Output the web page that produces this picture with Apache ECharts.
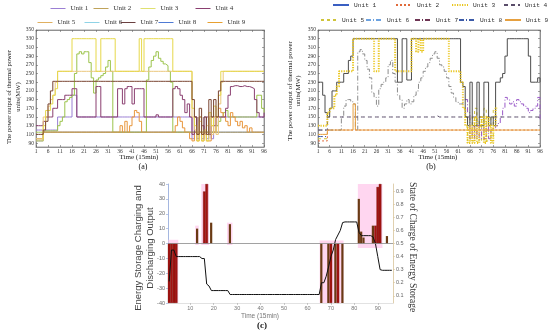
<!DOCTYPE html>
<html><head><meta charset="utf-8">
<script src="https://cdn.jsdelivr.net/npm/echarts@6/dist/echarts.min.js"></script>
<style>html,body{margin:0;padding:0;background:#fff}#c{width:550px;height:335px}</style>
</head><body><div id="c"></div>
<script>
// ---------------- DATA ----------------
const unitNames = ['Unit 1','Unit 2','Unit 3','Unit 4','Unit 5','Unit 6','Unit 7','Unit 8','Unit 9'];
const yTicksMW = [90,110,130,150,170,190,210,230,250,270,290,310,330,350];
const xTicksC = [10,20,30,40,50,60,70,80,90];
const socTicks = [0.1,0.2,0.3,0.4,0.5,0.6,0.7,0.8,0.9];
const n = null;

// (a) thermal unit outputs, t = 1..96
const a_u1 = [120,120,120,120,120,120,120,120,120,150,150,150, 150,150,150,200,200,150,150,150,150,150,150,150,
 150,150,150,150,150,150,150,150,150,150,150,150, 150,150,150,150,150,150,150,150,150,150,150,150,
 150,150,150,150,150,150,150,150,150,150,150,150, 150,150,150,150,150,100,150,100,150,100,150,100,
 150,100,150,130,150,150,150,150,150,150,150,150, 150,150,150,150,150,150,150,150,150,150,150,150];
const a_u2 = [100,100,100,115,115,115,115,115,115,115,115,115, 115,115,115,115,115,115,115,115,115,115,115,115,
 115,115,115,115,115,115,115,115,115,115,115,115, 115,115,115,115,115,115,115,115,115,115,115,115,
 115,115,115,115,115,115,115,115,115,115,115,115, 115,115,115,115,115,115,115,115,115,115,115,115,
 115,115,115,115,115,115,115,115,115,115,115,115, 115,115,115,115,115,115,115,115,115,115,115,115];
const a_u3 = [95,95,95,130,165,165,180,200,215,255,255,255, 255,255,255,330,330,330,330,330,330,330,330,330,
 330,255,255,330,330,330,330,330,330,255,255,255, 255,255,255,255,255,255,255,330,255,330,330,330,
 330,330,330,330,330,330,330,330,330,255,255,255, 255,255,255,255,255,170,130,95,150,95,120,95,
 160,130,175,150,200,255,255,255,255,255,255,255, 255,255,255,255,255,255,255,255,255,255,255,255];
const a_u4 = [130,130,130,140,150,150,150,170,170,190,190,190, 200,200,200,215,215,150,150,150,150,150,150,150,
 150,220,220,150,150,150,150,150,150,150,215,215, 180,215,220,220,180,215,215,215,215,150,150,150,
 150,150,155,150,150,150,150,150,150,215,220,215, 200,190,160,180,150,110,150,110,150,130,110,150,
 110,150,130,150,150,150,150,170,200,220,222,222, 220,220,222,220,220,218,215,190,160,150,150,160];
const a_u5 = [100,100,100,150,150,175,190,200,230,255,255,255, 255,255,255,255,255,255,255,255,255,255,255,255,
 255,255,255,255,255,255,255,255,255,255,255,255, 255,255,255,255,255,255,255,255,255,255,255,255,
 255,255,255,255,255,255,255,255,255,255,255,255, 255,255,255,255,255,150,120,110,140,110,110,130,
 150,110,150,110,180,230,255,255,255,255,255,255, 255,255,255,255,255,255,255,255,255,255,255,255];
const a_u6 = [115,115,115,118,118,118,118,118,118,130,140,150, 185,190,195,200,250,295,300,295,300,300,275,240,
 205,235,240,245,250,265,280,255,115,115,115,115, 115,115,115,115,115,115,115,115,115,115,235,265,
 280,290,300,285,278,272,268,255,230,115,115,115, 115,115,115,115,115,115,115,115,115,115,115,115,
 115,115,115,130,140,150,160,165,150,150,150,150, 150,150,150,150,150,150,150,150,200,200,170,160];
const a_u7 = [110,110,110,120,140,180,210,232,232,232,232,232, 232,232,232,232,232,232,232,232,232,232,232,232,
 232,232,232,232,232,232,232,232,232,232,232,232, 232,232,232,232,232,232,232,232,232,232,232,232,
 232,232,232,232,232,232,232,232,232,232,232,232, 232,232,232,232,232,190,150,110,170,110,150,110,
 190,150,190,150,210,232,232,232,232,232,232,232, 232,232,232,232,232,232,232,232,232,232,232,232];
const a_u8 = [95,95,95,115,115,115,115,115,115,115,115,115, 115,115,115,115,115,115,115,115,115,115,115,115,
 115,115,115,115,115,115,115,115,115,115,115,115, 115,115,115,115,115,115,115,115,115,115,115,115,
 115,115,115,115,115,115,115,115,115,115,115,115, 115,115,115,115,115,115,115,115,115,115,115,115,
 115,115,115,115,115,115,115,115,115,115,115,115, 115,115,115,115,115,115,115,115,115,115,115,115];
const a_u9 = [100,100,100,115,115,115,115,115,115,115,115,115, 115,115,115,115,115,115,115,115,115,115,115,115,
 115,115,115,115,115,115,115,115,115,115,115,130, 115,140,115,130,150,165,160,140,115,115,115,115,
 115,115,115,115,115,115,115,115,115,115,130,150, 140,125,115,115,100,95,115,95,115,95,115,95,
 95,130,115,150,170,160,150,140,130,160,150,140, 130,140,125,130,115,125,115,115,115,115,115,115];

// (b) thermal unit outputs, t = 1..96
const b_u1 = [230,230,200,160,150,170,210,210,230,230,230,250, 250,280,290,330,330,330,330,330,330,330,330,330,
 330,330,330,330,330,330,330,330,330,330,230,230, 330,330,235,235,330,330,330,330,330,330,330,330,
 330,330,330,330,330,330,330,330,330,330,330,330, 330,230,220,150,130,230,130,130,230,130,130,230,
 230,130,150,130,230,230,240,250,290,330,330,330, 330,330,330,330,330,330,290,230,230,230,240,230];
const b_u2 = [95,95,95,95,120,120,120,120,120,120,120,120, 120,120,120,120,120,120,120,120,120,120,120,120,
 120,120,120,120,120,120,120,120,120,120,120,120, 120,120,120,120,120,120,120,120,120,120,120,120,
 120,120,120,120,120,120,120,120,120,120,120,120, 120,120,120,120,120,120,120,120,120,120,120,120,
 120,120,120,120,120,120,120,120,120,120,120,120, 120,120,120,120,120,120,120,120,120,120,120,120];
const b_u3 = [130,130,130,130,160,170,170,200,220,255,255,255, 255,255,255,330,330,330,330,330,330,330,330,330,
 255,255,330,330,330,330,330,330,330,255,255,255, 255,255,255,255,330,330,300,330,300,330,330,330,
 330,330,330,330,330,330,330,330,255,255,255,255, 255,230,170,130,90,130,90,150,90,130,150,90,
 150,130,90,130,170,n,n,n,n,n,n,n, n,n,n,n,n,n,n,n,n,n,n,n];
const b_u4 = [120,120,120,120,150,150,150,150,150,150,150,150, 150,150,150,150,150,150,150,150,150,150,150,150,
 150,150,150,150,150,150,150,150,150,150,150,150, 150,150,150,150,150,150,150,150,150,150,150,150,
 150,150,153,150,150,150,150,150,150,150,150,150, 150,150,150,150,150,150,150,150,150,150,150,150,
 150,150,150,150,150,150,150,150,150,150,150,150, 150,150,150,150,150,150,150,150,150,150,150,150];
const b_u5 = [100,100,100,100,n,n,n,n,n,n,n,n, n,n,n,n,n,n,n,n,n,n,n,n,
 n,n,n,n,n,n,n,n,n,n,n,n, n,n,n,n,n,n,n,n,n,n,n,n,
 n,n,n,n,n,n,n,n,n,n,n,n, n,n,n,150,95,150,95,170,95,150,95,170,
 95,150,95,170,130,n,n,n,n,n,n,n, n,n,n,n,n,n,n,n,n,n,n,n];
const b_u6 = [120,120,120,120,120,120,120,120,120,120,150,175, 190,190,185,180,120,300,305,295,280,260,240,205,
 195,175,215,225,230,240,270,280,250,230,200,190, 170,180,190,180,185,200,210,230,240,255,265,275,
 285,295,300,285,270,265,255,240,220,205,195,185, 180,180,190,190,n,n,n,n,n,n,n,n,
 n,n,n,n,n,n,n,n,n,n,n,n, n,n,n,n,n,n,n,n,n,n,n,n];
const b_u7 = [n,n,n,n,n,n,n,n,n,n,n,n, n,n,n,n,n,n,n,n,n,n,n,n,
 n,n,n,n,n,n,n,n,n,n,n,n, n,n,n,n,n,n,n,n,n,n,n,n,
 n,n,n,n,n,n,n,n,n,n,n,n, n,n,n,190,160,100,130,100,130,100,125,100,
 130,100,120,125,130,135,150,170,195,190,180,185, 175,190,185,180,175,170,160,165,170,175,195,140];
const b_u8 = [105,105,105,105,n,n,n,n,n,n,n,n, n,n,n,n,n,n,n,n,n,n,n,n,
 n,n,n,n,n,n,n,n,n,n,n,n, n,n,n,n,n,n,n,n,n,n,n,n,
 n,n,n,n,n,n,n,n,n,n,n,n, n,n,n,n,n,n,n,n,n,n,n,n,
 n,n,n,n,n,n,n,n,n,n,n,n, n,n,n,n,n,n,n,n,n,n,n,n];
const b_u9 = [110,110,110,110,120,120,120,120,120,120,120,120, 120,120,120,180,120,120,120,120,120,120,120,120,
 120,120,120,120,120,120,120,120,120,120,120,120, 120,120,120,120,120,120,120,120,120,120,120,120,
 120,120,120,120,120,120,120,120,120,120,120,120, 120,120,120,120,120,120,120,120,120,120,120,120,
 120,120,120,120,120,120,120,120,120,120,120,120, 120,120,120,120,120,120,120,120,120,120,120,120];

// (c) energy storage
const c_brownT = [13,19,27,66,69,72,75,82,83,84,88,94];
const c_brownV = [10,14,13,-40,-40,-40,-40,30,8,4,12,5];
const c_redT = [1,2,3,4,16,17,70,73,89,90,91];
const c_redV = [-40,-40,-40,-40,35,40,-40,-40,12,38,40];
const c_soc = [0.21,0.45,0.45,0.40,0.40,0.40,0.40,0.40,0.40,0.40,0.40,0.40,
 0.40,0.40,0.385,0.385,0.19,0.175,0.14,0.14,0.14,0.14,0.14,0.14,
 0.14,0.14,0.11,0.11,0.11,0.11,0.11,0.11,0.11,0.11,0.11,0.11,
 0.11,0.11,0.11,0.11,0.11,0.11,0.11,0.11,0.11,0.11,0.11,0.11,
 0.11,0.11,0.11,0.11,0.11,0.11,0.11,0.11,0.11,0.11,0.11,0.11,
 0.11,0.11,0.11,0.11,0.11,0.20,0.20,0.25,0.32,0.40,0.45,0.53,
 0.565,0.60,0.66,0.665,0.665,0.665,0.665,0.665,0.665,0.585,0.56,0.56,
 0.56,0.56,0.56,0.55,0.50,0.40,0.30,0.295,0.295,0.295,0.295,0.295];
// pink highlight windows [t0, v0, t1, v1]
const c_pinkWindows = [[0.6,-40,4.9,2.5],[12.1,-1,13.6,12],[14.7,-1,18,40],[25.7,-1,28,14],[65.2,-40,75.4,2],[81.5,-3,92,40]];

// ---------------- STYLE ----------------
const colA = ['#9b7fd4','#bfa35a','#e6d84a','#8a3f70','#ebc77c','#9cc44c','#7a4532','#4f7ad4','#e8963c'];
const legColA = ['#9b7fd4','#bfa35a','#dfe070','#8a3f70','#e0b060','#8fd3e6','#6a4040','#4f7ad4','#e8a030'];
const colB = ['#4d4d4d','#e06a3a','#e9c51c','#5a4d6a','#cfc43a','#8c8c8c','#9a5ac8','#3b5aa8','#e6a040'];
const legColB = ['#3a5fc2','#e06a3a','#e9c51c','#5a4d6a','#cfc43a','#6ca2e0','#6e3554','#3b5aa8','#e6a040'];
const dashB = ['solid',[2,2],[1.2,1.3],[4,3],[3,3],[5,2,1,2],[5,2,1,2],[5,2,1,2],'solid'];
const widthB = [1,1,2,1,1,1,1,1,1];
const legPosA = [[50,5],[93,5],[140,5],[195,5],[37,19],[84,19],[120,19],[158,19],[207,19]];
const legPosB = [[332,2],[395,2],[451,2],[503,2],[320,17],[365,17],[414,17],[458,17],[504,17]];

const A = [a_u1,a_u2,a_u3,a_u4,a_u5,a_u6,a_u7,a_u8,a_u9];
const B = [b_u1,b_u2,b_u3,b_u4,b_u5,b_u6,b_u7,b_u8,b_u9];
const orderA = [7,0,5,8,1,3,4,2,6];
const orderB = [7,1,4,5,6,3,8,0,2];

const serif = 'Liberation Serif';
const series = [];
orderA.forEach(i => series.push({
  type:'line', name:unitNames[i], xAxisIndex:0, yAxisIndex:0, step:'end', symbol:'none', silent:true,
  data:A[i].map((v,k)=>[k+1,v]), lineStyle:{color:colA[i], width:1}, itemStyle:{color:colA[i]}
}));
orderB.forEach(i => series.push({
  type:'line', name:unitNames[i]+' ', xAxisIndex:2, yAxisIndex:2, step:'end', symbol:'none', silent:true,
  data:B[i].map((v,k)=>[k+1,v]), lineStyle:{color:colB[i], width:widthB[i], type:dashB[i]}, itemStyle:{color:colB[i]}
}));
series.push({
  type:'scatter', xAxisIndex:4, yAxisIndex:4, data:[], silent:true, z:1,
  markArea:{silent:true, itemStyle:{color:'rgba(255,200,235,0.75)'},
    data:c_pinkWindows.map(w=>[{coord:[w[0],w[1]]},{coord:[w[2],w[3]]}])},
  markLine:{silent:true, symbol:'none', label:{show:false}, lineStyle:{color:'#8a8a8a', width:0.8, type:'solid'}, data:[{yAxis:0}]}
});
series.push({type:'bar', name:'charge', xAxisIndex:4, yAxisIndex:4, barWidth:2.2, silent:true, z:2,
  data:c_brownT.map((t,k)=>[t,c_brownV[k]]), itemStyle:{color:'#6a3a14'}});
series.push({type:'bar', name:'discharge', xAxisIndex:4, yAxisIndex:4, barWidth:2.6, barGap:'-100%', silent:true, z:2,
  data:c_redT.map((t,k)=>[t,c_redV[k]]), itemStyle:{color:'#a31212', borderColor:'#6a200a', borderWidth:0.3}});
series.push({type:'line', name:'SOC', xAxisIndex:4, yAxisIndex:5, symbol:'none', silent:true, z:3,
  data:c_soc.map((v,k)=>[k+1,v]), lineStyle:{color:'#111', width:1}});

const hideSym = {color:'rgba(0,0,0,0)', borderColor:'rgba(0,0,0,0)', borderWidth:0};
const legends = [];
unitNames.forEach((nm,i)=>{
  legends.push({left:legPosA[i][0], top:legPosA[i][1], padding:0, itemGap:0, itemWidth:15, itemHeight:7, selectedMode:false,
    textStyle:{fontFamily:serif, fontSize:7, color:'#333'},
    data:[{name:nm, lineStyle:{color:legColA[i], width:1}, itemStyle:hideSym}]});
  legends.push({left:legPosB[i][0], top:legPosB[i][1], padding:0, itemGap:0, itemWidth:16, itemHeight:7, selectedMode:false,
    formatter:s=>s.trim(),
    textStyle:{fontFamily:'Liberation Mono', fontSize:6.2, color:'#333'},
    data:[{name:nm+' ', lineStyle:{color:legColB[i]}, itemStyle:hideSym}]});
});

function mwX(grid, pos, showLabel){
  return {type:'value', gridIndex:grid, position:pos, min:1, max:96, interval:5,
    axisLine:{show:true, onZero:false, lineStyle:{color:'#666', width:0.6}},
    axisTick:{show:true, inside:true, length:2, lineStyle:{color:'#666', width:0.6}},
    axisLabel:{show:showLabel, margin:2, fontFamily:serif, fontSize:5.5, color:'#333'},
    splitLine:{show:false}};
}
function mwY(grid, pos, showLabel){
  return {type:'value', gridIndex:grid, position:pos, min:81, max:350,
    axisLine:{show:true, lineStyle:{color:'#666', width:0.6}},
    axisTick:{show:true, inside:true, length:2, customValues:yTicksMW, lineStyle:{color:'#666', width:0.6}},
    axisLabel:{show:showLabel, margin:2, customValues:yTicksMW, fontFamily:serif, fontSize:5.5, color:'#333'},
    splitLine:{show:false}};
}

const option = {
  animation:false,
  backgroundColor:'#fff',
  legend:legends,
  grid:[
    {left:36, top:30, width:228, height:117, show:true, borderColor:'#666', borderWidth:0.6},
    {left:36, top:30, width:228, height:117},
    {left:318, top:30, width:222, height:117, show:true, borderColor:'#666', borderWidth:0.6},
    {left:318, top:30, width:222, height:117},
    {left:168, top:184, width:225, height:119}
  ],
  xAxis:[
    mwX(0,'bottom',true), mwX(1,'top',false), mwX(2,'bottom',true), mwX(3,'top',false),
    {type:'value', gridIndex:4, min:0.5, max:96.5,
     axisLine:{show:true, onZero:false, lineStyle:{color:'#cfcfcf', width:0.6}},
     axisTick:{show:true, length:2, customValues:xTicksC, lineStyle:{color:'#aaa', width:0.6}},
     axisLabel:{margin:2, customValues:xTicksC, fontFamily:'Liberation Sans', fontSize:5.5, color:'#777'},
     splitLine:{show:false}}
  ],
  yAxis:[
    mwY(0,'left',true), mwY(1,'right',false), mwY(2,'left',true), mwY(3,'right',false),
    {type:'value', gridIndex:4, position:'left', min:-40, max:40, interval:10,
     axisLine:{show:true, lineStyle:{color:'#8ea4d8', width:0.8}},
     axisTick:{show:true, length:2, lineStyle:{color:'#8ea4d8', width:0.6}},
     axisLabel:{margin:3, fontFamily:'Liberation Sans', fontSize:5.5, color:'#666'},
     splitLine:{show:false}},
    {type:'value', gridIndex:4, position:'right', min:0.045, max:0.955,
     axisLine:{show:true, lineStyle:{color:'#d8c49a', width:0.8}},
     axisTick:{show:true, length:2, customValues:socTicks, lineStyle:{color:'#d8c49a', width:0.6}},
     axisLabel:{margin:3, customValues:socTicks, formatter:v=>v.toFixed(1), fontFamily:'Liberation Sans', fontSize:5.5, color:'#666'},
     splitLine:{show:false}}
  ],
  graphic:[
    {type:'text', x:14, y:97, rotation:Math.PI/2, style:{text:'The power output of thermal power\nunits(MW)', fontFamily:serif, fontSize:6.6, lineHeight:8.5, fill:'#222', align:'center', verticalAlign:'middle'}},
    {type:'text', x:294, y:91, rotation:Math.PI/2, style:{text:'The power output of thermal power\nunits(MW)', fontFamily:serif, fontSize:7, lineHeight:8.5, fill:'#222', align:'center', verticalAlign:'middle'}},
    {type:'text', x:139, y:157, style:{text:'Time (15min)', fontFamily:serif, fontSize:7, fill:'#222', align:'center', verticalAlign:'middle'}},
    {type:'text', x:438, y:157, style:{text:'Time (15min)', fontFamily:serif, fontSize:7, fill:'#222', align:'center', verticalAlign:'middle'}},
    {type:'text', x:143, y:167, style:{text:'(a)', fontFamily:serif, fontSize:8, fill:'#111', align:'center', verticalAlign:'middle'}},
    {type:'text', x:431, y:167, style:{text:'(b)', fontFamily:serif, fontSize:8, fill:'#111', align:'center', verticalAlign:'middle'}},
    {type:'text', x:144, y:248, rotation:Math.PI/2, style:{text:'Energy Storage Charging and\nDischarging Output', fontFamily:'Liberation Sans', fontSize:9.5, lineHeight:12, fill:'#444', align:'center', verticalAlign:'middle'}},
    {type:'text', x:412, y:247, rotation:-Math.PI/2, style:{text:'State of Charge of Energy Storage', fontFamily:serif, fontSize:9.5, fill:'#333', align:'center', verticalAlign:'middle'}},
    {type:'text', x:260, y:316, style:{text:'Time (15min)', fontFamily:'Liberation Sans', fontSize:6.5, fill:'#777', align:'center', verticalAlign:'middle'}},
    {type:'text', x:262, y:326, style:{text:'(c)', fontFamily:serif, fontSize:9, fontWeight:'bold', fill:'#111', align:'center', verticalAlign:'middle'}}
  ],
  series:series
};
const chart = echarts.init(document.getElementById('c'), null, {renderer:'canvas'});
chart.setOption(option);
</script>
</body></html>
